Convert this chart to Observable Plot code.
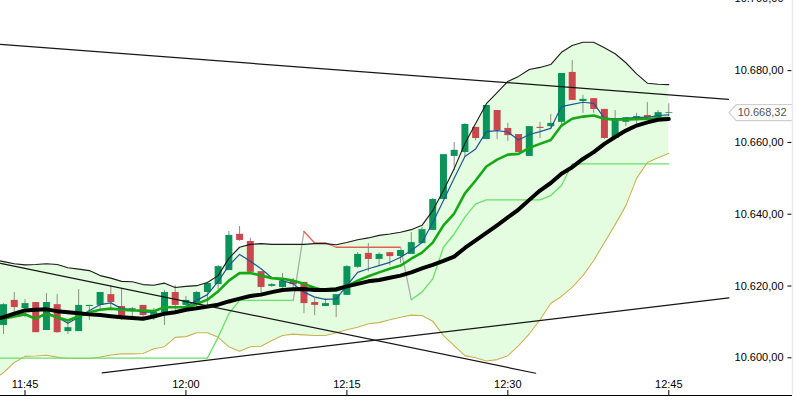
<!DOCTYPE html>
<html>
<head>
<meta charset="utf-8">
<script src="https://cdn.jsdelivr.net/npm/d3@7"></script>
<script src="https://cdn.jsdelivr.net/npm/@observablehq/plot@0.6"></script>
<style>
html,body{margin:0;padding:0;background:#fff;overflow:hidden}
svg{display:block}
</style>
</head>
<body>
<div id="chart"></div>
<script>
const priceBase = 10600;

// Candles, minute -2 .. 60 relative to 11:45; prices are offsets from priceBase
const candleOpen = [9.0,16.0,13.7,15.4,7.6,14.8,7.3,7.3,14.3,14.6,17.6,14.3,13.5,14.6,11.2,12.6,18.2,14.6,14.6,18.2,20.4,24.3,34.4,32.4,24.0,19.9,19.6,21.5,21.0,15.4,14.3,14.6,17.4,25.2,29.1,27.4,29.3,28.2,28.8,31.8,35.5,44.1,56.1,57.2,64.2,60.8,68.9,63.9,62.2,56.1,64.2,64.4,65.6,79.5,71.4,72.2,69.2,61.1,65.6,66.9,67.5,66.9,68.1];
const candleClose = [14.8,14.0,15.1,7.0,15.4,7.0,8.4,14.6,14.6,18.2,15.4,11.5,13.7,11.8,12.6,18.2,14.6,16.0,18.2,20.7,25.4,34.1,32.7,23.8,19.6,20.4,21.3,20.4,15.1,14.6,15.1,17.6,25.4,28.8,27.4,28.8,28.2,29.9,32.1,35.7,44.1,56.6,57.8,65.0,61.1,70.3,63.3,61.9,57.2,64.4,63.9,65.3,79.2,71.7,72.0,69.2,61.1,66.4,66.9,67.2,66.9,68.3,68.3];
const candleHigh = [15.1,18.2,16.2,15.4,17.9,17.6,10.4,19.0,14.6,18.2,20.1,19.3,14.0,14.6,13.7,18.8,20.1,17.1,18.5,21.0,25.7,35.2,36.6,33.3,24.0,20.7,23.5,22.1,21.0,16.5,16.5,17.6,25.7,29.3,31.8,29.3,29.3,29.9,34.9,36.3,44.4,56.6,60.0,65.3,64.2,70.3,68.9,65.3,62.2,64.4,65.6,67.8,79.2,82.8,73.1,72.2,69.2,68.9,66.9,68.1,71.1,68.9,70.8];
const candleLow = [6.5,12.6,11.2,7.0,7.6,6.8,6.5,7.3,10.4,13.2,13.2,10.4,10.4,10.9,10.4,9.0,13.2,13.7,13.7,14.0,19.0,24.3,32.4,23.8,17.9,19.6,19.3,19.3,12.3,11.8,14.3,11.2,17.4,24.9,24.0,25.7,25.7,26.3,28.8,31.8,35.5,44.1,52.2,55.8,60.5,60.8,60.8,60.3,57.2,56.1,61.1,63.9,64.2,71.7,68.1,68.1,60.8,61.1,64.4,64.2,66.9,66.9,67.2];

// Indicator lines, minute -3 .. 60
const upperBand = [27.4,26.8,26.2,25.9,26.0,26.2,26.0,25.1,24.7,24.3,22.9,22.2,21.3,21.2,20.4,20.2,20.8,19.6,19.9,20.1,21.0,22.9,27.7,30.8,31.6,31.8,31.6,31.6,31.6,31.6,31.8,31.8,31.5,32.1,32.9,33.4,34.1,34.5,35.0,35.7,36.9,41.0,46.6,52.7,59.7,65.3,70.8,73.9,77.0,78.4,80.3,80.9,81.7,85.1,87.0,87.9,87.9,86.4,84.7,82.2,79.1,76.5,76.2,76.1];
const lowerBand = [-6.3,-4.1,-1.3,0.4,0.5,0.7,0.2,-0.2,-0.2,-0.2,0.2,0.8,1.1,1.1,1.2,2.5,3.1,5.7,5.9,7.0,7.0,5.7,3.1,1.8,3.1,3.2,4.8,6.2,6.6,6.4,6.2,6.2,7.0,7.8,8.5,9.5,9.8,10.6,11.3,11.9,11.8,10.2,6.2,3.4,0.6,0,-0.9,-0.5,0.6,3.4,6.7,10.6,15.2,17.1,19.7,22.9,27.1,32.1,37.1,42.4,50.0,54.4,55.7,57.0];
const blueLine = [10.7,11.3,11.9,12.3,10.9,12.7,11.3,9.6,11.3,13.2,14.8,15.3,13.7,13.5,12.7,12.7,14.1,14.3,14.3,16.0,17.6,21.3,25.7,28.8,26.9,24.8,22.3,21.5,20.6,18.3,16.9,16.3,16.4,20.1,23.8,24.8,25.7,26.6,28.0,29.9,32.1,37.7,43.8,50.0,56.1,58.2,63.0,63.3,62.9,60.7,62.2,63.0,63.9,70.0,70.6,71.2,70.9,66.8,66.6,66.7,67.0,67.0,67.5,67.7];
const greenLine = [10.4,10.9,11.5,12.1,10.9,12.3,11.3,10.4,11.6,12.7,13.4,13.7,13.4,13.2,13.2,13.0,14.1,14.1,14.1,15.0,16.2,18.5,21.5,23.6,23.6,22.9,22.2,22.0,21.5,20.6,19.5,18.7,18.7,19.9,21.5,22.7,23.8,24.8,25.7,27.6,29.3,32.1,36.9,40.2,45.8,49.4,53.3,55.2,56.6,56.8,58.5,59.6,60.7,64.7,66.6,67.2,67.5,66.6,66.3,66.4,66.5,66.6,66.7,66.8];
const blackLine = [10.7,11.3,12.3,13.2,13.4,13.5,13.0,12.7,12.4,12.1,11.9,11.6,11.3,11.1,10.9,11.5,12.3,12.7,13.4,13.8,14.3,14.8,15.7,16.5,17.2,17.6,18.3,18.9,19.1,19.2,18.9,18.9,19.1,19.9,20.6,21.3,21.7,22.3,22.9,23.8,24.9,25.9,27.0,28.2,30.6,32.7,34.8,36.9,39.1,41.3,44.0,46.6,48.7,51.3,53.1,55.4,57.3,59.6,61.5,63.3,64.7,65.6,66.3,66.5];
const stopLine = [-0.1,-0.1,-0.1,-0.1,-0.1,-0.1,-0.1,-0.1,-0.1,-0.1,-0.1,-0.1,-0.1,-0.1,-0.1,-0.1,-0.1,-0.1,-0.1,-0.1,-0.1,5.7,12.3,16.0,16.0,16.0,16.0,16.0,16.0,35.2,32.0,32.0,30.8,30.8,30.8,30.8,30.8,30.8,30.8,16.2,18.3,22.0,30.8,34.5,39.2,42.9,44.0,44.0,44.0,44.0,44.0,44.0,45.2,48.0,54.0,54.0,54.0,54.0,54.0,54.0,54.0,54.0,54.0,54.0];

// Hand-drawn trend lines: [minute, price offset] at both ends
const trendTop = [[-2.283,87.3],[65.56,72.0]];
const trendFalling = [[-2.283,26.3],[47.6,-4.3]];
const trendRising = [[7.2,-4.2],[65.6,16.7]];

const yTicks = [10700,10680,10660,10640,10620,10600];
const xTicks = [0,15,30,45,60];
const xTickLabels = ["11:45","12:00","12:15","12:30","12:45"];
const lastPrice = 10668.32;

const fmtPrice = d => d.toLocaleString("de-DE",{minimumFractionDigits:2,maximumFractionDigits:2});

const xDomain = [-2.283,71.53];
const yDomain = [10589.5,10699.54];
const minutesPerPx = (xDomain[1]-xDomain[0])/792;
const pricePerPx = (yDomain[1]-yDomain[0])/395;

const candles = candleOpen.map((o,i)=>({
  m:i-2,
  open:o+priceBase, close:candleClose[i]+priceBase,
  high:candleHigh[i]+priceBase, low:candleLow[i]+priceBase,
  color:candleClose[i]>=o?"#0a9459":"#c9474d"
}));
const rows = upperBand.map((u,i)=>({
  m:i-3,
  upper:u+priceBase, lower:lowerBand[i]+priceBase,
  blue:blueLine[i]+priceBase, green:greenLine[i]+priceBase,
  black:blackLine[i]+priceBase, stop:stopLine[i]+priceBase
}));
const stopSegments = [[-3,25,"#66e166"],[25,26,"#a9b0a9"],[26,35,"#e2604f"],[35,36,"#a9b0a9"],[36,60,"#66e166"]];
const trend = t => t.map(([m,p])=>({m,p:p+priceBase}));

const tag = [
  [xDomain[1],lastPrice+2.25],[66.3,lastPrice+2.25],[65.6,lastPrice],[66.3,lastPrice-2.25],[xDomain[1],lastPrice-2.25]
].map(([m,p])=>({m,p}));

const line = (key,stroke,strokeWidth) => Plot.line(rows,{x:"m",y:key,stroke,strokeWidth,clip:true});

const chart = Plot.plot({
  width:798,height:401,
  marginLeft:0,marginRight:6,marginTop:0,marginBottom:6,
  style:{fontFamily:"'Liberation Sans',Arial,sans-serif",fontSize:"11px",background:"#fff",overflow:"hidden"},
  x:{type:"linear",domain:xDomain,axis:null},
  y:{type:"linear",domain:yDomain,axis:null},
  marks:[
    Plot.areaY(rows,{x:"m",y1:"lower",y2:"upper",fill:"#e4fde0",clip:true}),
    line("lower","#c6b24e",1.1),
    ...stopSegments.map(([a,b,c])=>Plot.line(rows.filter(r=>r.m>=a&&r.m<=b),{x:"m",y:"stop",stroke:c,strokeWidth:1.3,clip:true})),
    Plot.ruleX(candles,{x:"m",y1:"low",y2:"high",stroke:"#8a8f85",strokeWidth:1,clip:true}),
    Plot.ruleX(candles,{x:"m",y1:"open",y2:"close",stroke:"color",strokeWidth:7,clip:true}),
    line("upper","#1c1c1c",1.1),
    line("blue","#1f5596",1.2),
    line("green","#16a816",2.6),
    line("black","#000",4),
    ...[trendTop,trendFalling,trendRising].map(t=>Plot.line(trend(t),{x:"m",y:"p",stroke:"#161616",strokeWidth:1.2,clip:true})),
    Plot.line(tag,{x:"m",y:"p",stroke:"#cfcfcf",strokeWidth:1.2}),
    Plot.text([lastPrice],{x:()=>68.7,y:d=>d,text:fmtPrice,fill:"#555",fontSize:11}),
    Plot.ruleY(yTicks,{x1:()=>xDomain[1]-4.5*minutesPerPx,x2:()=>xDomain[1]-0.5*minutesPerPx,y:d=>d,stroke:"#000",strokeWidth:1}),
    Plot.text(yTicks,{y:d=>d,frameAnchor:"right",dx:-9,textAnchor:"end",text:fmtPrice,fill:"#000",fontSize:11}),
    Plot.ruleY([yDomain[0]],{stroke:"#000",strokeWidth:1}),
    Plot.ruleX(xTicks,{x:d=>d,y1:()=>yDomain[0],y2:()=>yDomain[0]+5*pricePerPx,stroke:"#000",strokeWidth:1}),
    Plot.text(xTicks,{x:d=>d,frameAnchor:"bottom",dy:-11,lineAnchor:"middle",text:(d,i)=>xTickLabels[i],fill:"#000",fontSize:11}),
    Plot.ruleX([xDomain[1]],{stroke:"#ececec",strokeWidth:1.5})
  ]
});
document.getElementById("chart").append(chart);
</script>
</body>
</html>
